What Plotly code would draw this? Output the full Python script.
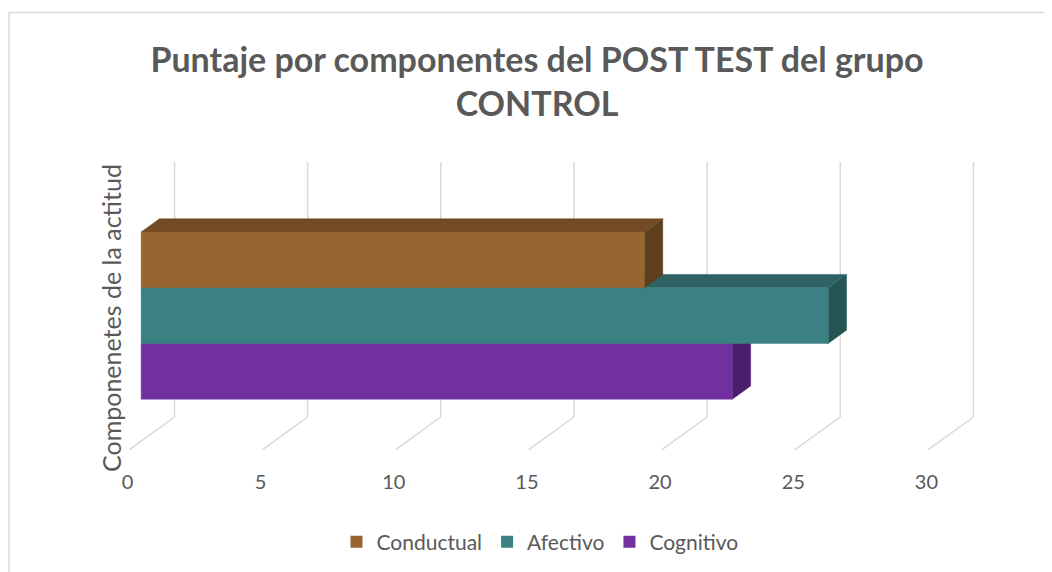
import plotly.graph_objects as go

# ---------------- data ----------------
series = ["Conductual", "Afectivo", "Cognitivo"]
values = [18.9, 25.8, 22.2]
tick_vals = [0, 5, 10, 15, 20, 25, 30]
tick_text = ["0", "5", "10", "15", "20", "25", "30"]
title_text = "Puntaje por componentes del POST TEST del grupo<br>CONTROL"
axis_title = "Componenetes de la actitud"

# ---------------- styles ----------------
front_col = {"Conductual": "#976530", "Afectivo": "#3b8083", "Cognitivo": "#7030a0"}
top_col = {"Conductual": "#734c27", "Afectivo": "#2d6365", "Cognitivo": "#57247d"}
side_col = {"Conductual": "#5f3e1e", "Afectivo": "#255455", "Cognitivo": "#4a1e6b"}
grid_col = "#d9d9d9"
text_col = "#595959"

W, H = 1052, 572
OFF = 8                      # page body margin of the html page
# plot area in screenshot pixels
PL, PR, PT, PB = 124, 1000, 150, 465
ML, MT = PL - OFF, PT - OFF
MR, MB = W - (PR - OFF), H - (PB - OFF)
PX_PER_UNIT = 26.63
plot_w = PR - PL
plot_h = PB - PT
x_min = -3.5 / PX_PER_UNIT
x_max = x_min + plot_w / PX_PER_UNIT
y_lo = H - PB                # 1 y-unit = 1 px, y = H - screenshot py
y_hi = y_lo + plot_h

# 3D projection parameters (oblique)
DX = 47 / PX_PER_UNIT   # depth shift in x (value units)
DY = 34                 # depth shift in y (px units)
FLOOR0 = 121            # front floor level
WALL_H = 255            # wall height
D_FRONT, D_BACK = 0.29, 0.68
LIFT, BAND = 42, 55.7


def proj(v, d, h):
    return v + d * DX, FLOOR0 + d * DY + h


fig = go.Figure()


def poly(pts, color):
    xs = [p[0] for p in pts] + [pts[0][0]]
    ys = [p[1] for p in pts] + [pts[0][1]]
    fig.add_trace(go.Scatter(x=xs, y=ys, mode="lines", fill="toself",
                             fillcolor=color, line=dict(color=color, width=0.5),
                             hoverinfo="skip", showlegend=False))


def line(p1, p2):
    fig.add_trace(go.Scatter(x=[p1[0], p2[0]], y=[p1[1], p2[1]], mode="lines",
                             line=dict(color=grid_col, width=1.5),
                             hoverinfo="skip", showlegend=False))


# gridlines: back wall verticals + floor diagonals
for v in tick_vals:
    line(proj(v, 1, 0), proj(v, 1, WALL_H))
    line(proj(v, 1, 0), proj(v, 0.04, 0))

# bars: draw bottom (Cognitivo) first, top (Conductual) last
n = len(series)
for idx in range(n - 1, -1, -1):
    name = series[idx]
    val = values[idx]
    level = n - 1 - idx
    h0 = LIFT + level * BAND
    h1 = h0 + BAND
    # right end face
    poly([proj(val, D_FRONT, h0), proj(val, D_BACK, h0),
          proj(val, D_BACK, h1), proj(val, D_FRONT, h1)], side_col[name])
    # top face
    poly([proj(0, D_FRONT, h1), proj(val, D_FRONT, h1),
          proj(val, D_BACK, h1), proj(0, D_BACK, h1)], top_col[name])
    # front face
    poly([proj(0, D_FRONT, h0), proj(val, D_FRONT, h0),
          proj(val, D_FRONT, h1), proj(0, D_FRONT, h1)], front_col[name])

# legend entries
for name in series:
    fig.add_trace(go.Scatter(x=[None], y=[None], mode="markers", name=name,
                             marker=dict(symbol="square", size=13, color=front_col[name])))


def px2paper_x(px):
    return (px - PL) / plot_w


def py2paper_y(py):
    return (PB - py) / plot_h


# outer chart border
fig.add_shape(type="rect", xref="paper", yref="paper",
              x0=px2paper_x(9), x1=px2paper_x(1070),
              y0=py2paper_y(590), y1=py2paper_y(12.5),
              line=dict(color=grid_col, width=1.5), layer="below")

fig.add_annotation(text=axis_title, xref="paper", yref="paper",
                   x=px2paper_x(111), y=py2paper_y(318), textangle=-90,
                   showarrow=False, xanchor="center", yanchor="middle",
                   font=dict(family="Lato", size=25, color=text_col))

fig.update_layout(
    width=W, height=H, autosize=False,
    margin=dict(l=ML, r=MR, t=MT, b=MB, autoexpand=False),
    paper_bgcolor="white", plot_bgcolor="white",
    title=dict(text=title_text, x=(537 - OFF) / W, xref="container", xanchor="center",
               y=1 - (72 - OFF) / H, yref="container", yanchor="middle",
               font=dict(family="Lato", size=34, color=text_col, weight="bold")),
    xaxis=dict(range=[x_min, x_max], tickvals=tick_vals, ticktext=tick_text,
               showgrid=False, zeroline=False, showline=False, ticks="",
               ticklabelstandoff=3,
               tickfont=dict(family="Lato", size=20, color=text_col), fixedrange=True),
    yaxis=dict(range=[y_lo, y_hi], showgrid=False, zeroline=False, showline=False,
               showticklabels=False, ticks="", fixedrange=True),
    legend=dict(orientation="h", x=px2paper_x(540), xanchor="center",
                y=py2paper_y(542), yanchor="middle",
                font=dict(family="Lato", size=21, color=text_col),
                itemsizing="constant"),
    showlegend=True,
)

fig.write_html("out.html")
